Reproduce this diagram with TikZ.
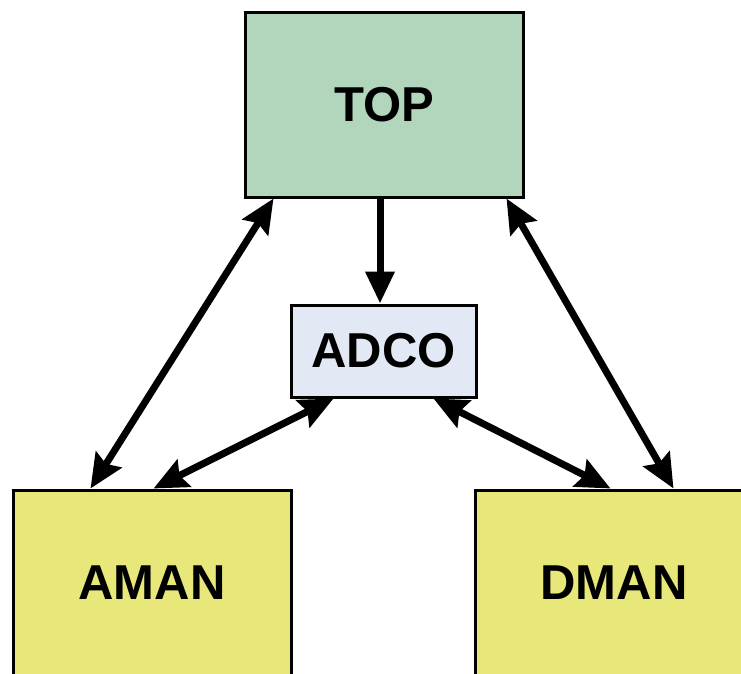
\documentclass[tikz,border=0pt]{standalone}
\usepackage{fontspec}
\setmainfont{Liberation Sans}
\usetikzlibrary{arrows.meta}
\definecolor{topgreen}{HTML}{B2D6BB}
\definecolor{adcoblue}{HTML}{E2E9F4}
\definecolor{manyellow}{HTML}{E8E87A}
\begin{document}
\begin{tikzpicture}[x=1pt,y=-1pt,
  box/.style={draw, line width=3pt, inner sep=0pt, font=\fontsize{49}{53}\selectfont\bfseries},
  link/.style={draw, line width=7pt, {Stealth[length=34pt,width=30pt,inset=5pt]}-{Stealth[length=34pt,width=30pt,inset=5pt]}},
  onelink/.style={draw, line width=7pt, -{Stealth[length=32pt,width=28pt,inset=0pt]}}]
\useasboundingbox (0,0) rectangle (741,673);
\node[box, fill=topgreen, minimum width=278pt, minimum height=185pt] (top) at (384,104.5) {TOP};
\node[box, fill=adcoblue, minimum width=185pt, minimum height=92pt] (adco) at (383.5,351) {ADCO};
\node[box, fill=manyellow, minimum width=278pt, minimum height=185pt] (aman) at (152,582.5) {AMAN};
\node[box, fill=manyellow, minimum width=278pt, minimum height=185pt] (dman) at (614,582.5) {DMAN};
\path[onelink] ([xshift=-4pt]top.south) -- ([xshift=-3.5pt]adco.north);
\path[link] ([xshift=30pt]top.south west) -- ([xshift=79pt]aman.north west);
\path[link] ([xshift=-18pt]top.south east) -- ([xshift=200pt]dman.north west);
\path[link] ([xshift=44pt]adco.south west) -- ([xshift=142pt]aman.north west);
\path[link] ([xshift=-44pt]adco.south east) -- ([xshift=137pt]dman.north west);
\end{tikzpicture}
\end{document}
